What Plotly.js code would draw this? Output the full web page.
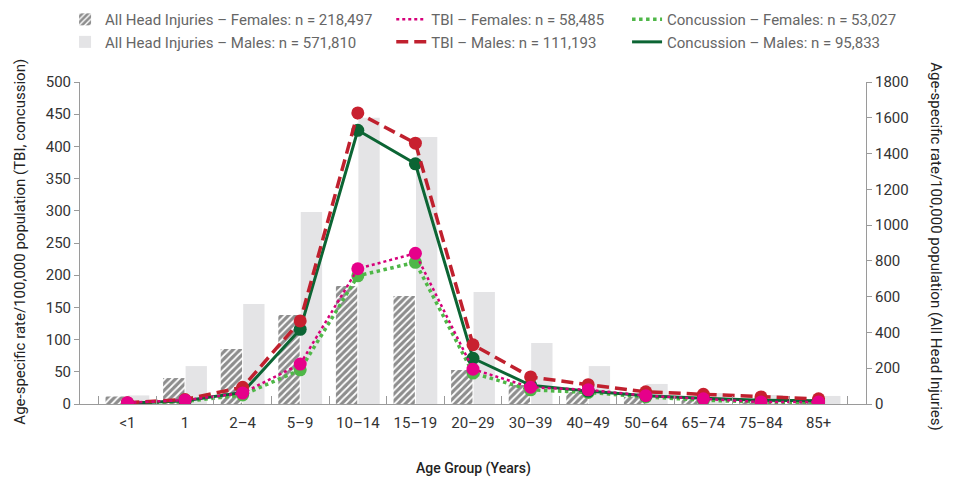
<!DOCTYPE html>
<html>
<head>
<meta charset="utf-8">
<script src="https://cdn.plot.ly/plotly-3.0.1.min.js"></script>
<style>
  html, body { margin: 0; padding: 0; background: #ffffff; }
  #chart { width: 956px; height: 486px; }
</style>
</head>
<body>
<div id="chart"></div>
<script>
// Age groups on the category axis
const ageGroups = ['<1', '1', '2–4', '5–9', '10–14', '15–19', '20–29', '30–39', '40–49', '50–64', '65–74', '75–84', '85+'];

// All head injuries, rate per 100,000 (right-hand scale)
const allHeadFemales = [42, 145, 307, 497, 660, 604, 190, 106, 67, 40, 34, 28, 26];
const allHeadMales   = [48, 212, 559, 1073, 1600, 1492, 626, 341, 212, 112, 61, 50, 45];

// TBI and concussion, rate per 100,000 (left-hand scale)
const tbiFemales        = [2, 6, 17, 62, 210, 234, 54, 26, 22, 13, 8, 3, 3];
const tbiMales          = [2, 7, 26, 129, 452, 405, 92, 42, 30, 19, 15, 11, 8];
const concussionFemales = [1, 4, 14, 53, 199, 220, 48, 22, 18, 11, 6, 3, 2];
const concussionMales   = [1, 5, 18, 116, 425, 373, 71, 29, 20, 13, 9, 6, 5];

// Legend labels
const labels = {
  ahiF: 'All Head Injuries – Females: n = 218,497',
  ahiM: 'All Head Injuries – Males: n = 571,810',
  tbiF: 'TBI – Females: n = 58,485',
  tbiM: 'TBI – Males: n = 111,193',
  conF: 'Concussion – Females: n = 53,027',
  conM: 'Concussion – Males: n = 95,833'
};

const FONT = 'Roboto, "Noto Sans", "DejaVu Sans", sans-serif';
const AXIS_GREY = '#9a9a9a';

// Each rate series is drawn as a line (which carries the legend entry)
// plus a marker layer without a legend entry, so the legend shows plain lines.
function rateSeries(name, values, legendId, rank, line, markerColor) {
  return [
    {
      type: 'scatter', mode: 'lines', name: name, x: ageGroups, y: values,
      xaxis: 'x', yaxis: 'y2', legend: legendId, legendrank: rank, legendgroup: name,
      line: line, hoverinfo: 'skip'
    },
    {
      type: 'scatter', mode: 'markers', name: name, x: ageGroups, y: values,
      xaxis: 'x', yaxis: 'y2', showlegend: false, legendgroup: name,
      marker: { color: markerColor, size: 13 }, hoverinfo: 'skip'
    }
  ];
}

const traces = [
  {
    type: 'bar', name: labels.ahiF, x: ageGroups, y: allHeadFemales,
    xaxis: 'x', yaxis: 'y', legend: 'legend', legendrank: 1, legendgroup: 'ahiF',
    marker: {
      color: '#8d8d8d',
      line: { width: 0 },
      pattern: { shape: '/', fgcolor: '#ffffff', bgcolor: '#8d8d8d', size: 5, solidity: 0.35 }
    },
    hoverinfo: 'skip'
  },
  {
    type: 'bar', name: labels.ahiM, x: ageGroups, y: allHeadMales,
    xaxis: 'x', yaxis: 'y', legend: 'legend', legendrank: 2, legendgroup: 'ahiM',
    marker: { color: '#e4e4e6', line: { width: 0 } },
    hoverinfo: 'skip'
  }
]
  .concat(rateSeries(labels.conF, concussionFemales, 'legend3', 1,
    { color: '#4fb748', width: 3.5, dash: 'dot' }, '#4fb748'))
  .concat(rateSeries(labels.conM, concussionMales, 'legend3', 2,
    { color: '#0c6534', width: 3 }, '#0c6534'))
  .concat(rateSeries(labels.tbiM, tbiMales, 'legend2', 2,
    { color: '#c0202e', width: 3.5, dash: '12px,6px' }, '#c8202f'))
  .concat(rateSeries(labels.tbiF, tbiFemales, 'legend2', 1,
    { color: '#d6007a', width: 2.5, dash: 'dot' }, '#e6008a'));

const legendBase = {
  orientation: 'v',
  yref: 'paper', y: 1.245, yanchor: 'top',
  xanchor: 'left',
  bgcolor: 'rgba(0,0,0,0)',
  font: { family: FONT, size: 15, color: '#666666' },
  tracegroupgap: 5,
  traceorder: 'normal'
};

const layout = {
  width: 956,
  height: 486,
  margin: { l: 80, r: 90, t: 82, b: 82, autoexpand: false },
  paper_bgcolor: '#ffffff',
  plot_bgcolor: '#ffffff',
  font: { family: FONT, size: 15, color: '#333333' },
  barmode: 'group',
  bargap: 0.22,
  bargroupgap: 0.05,
  showlegend: true,
  legend:  Object.assign({}, legendBase, { x: -0.019 }),
  legend2: Object.assign({}, legendBase, { x: 0.396 }),
  legend3: Object.assign({}, legendBase, { x: 0.696 }),
  xaxis: {
    type: 'category',
    showline: true, linecolor: AXIS_GREY, linewidth: 1,
    ticks: 'inside', tickson: 'boundaries', ticklen: 8, tickcolor: AXIS_GREY,
    ticklabelstandoff: 5,
    showgrid: false, zeroline: false,
    tickfont: { family: FONT, size: 15, color: '#333333' }
  },
  yaxis: {
    side: 'right',
    range: [0, 1800], dtick: 200,
    showline: true, linecolor: AXIS_GREY, linewidth: 1,
    ticks: 'outside', ticklen: 5, tickcolor: AXIS_GREY,
    showgrid: false, zeroline: false,
    tickfont: { family: FONT, size: 15, color: '#333333' }
  },
  yaxis2: {
    side: 'left', overlaying: 'y',
    range: [0, 500], dtick: 50,
    showline: true, linecolor: AXIS_GREY, linewidth: 1,
    ticks: 'outside', ticklen: 5, tickcolor: AXIS_GREY,
    showgrid: false, zeroline: false,
    tickfont: { family: FONT, size: 15, color: '#333333' }
  },
  annotations: [
    {
      text: 'Age-specific rate/100,000 population (TBI, concussion)',
      xref: 'paper', yref: 'paper', x: -0.076, y: 0.505,
      xanchor: 'center', yanchor: 'middle', textangle: -90, showarrow: false,
      font: { family: FONT, size: 15, color: '#222222' }
    },
    {
      text: 'Age-specific rate/100,000 population (All Head Injuries)',
      xref: 'paper', yref: 'paper', x: 1.089, y: 0.49,
      xanchor: 'center', yanchor: 'middle', textangle: 90, showarrow: false,
      font: { family: FONT, size: 15, color: '#222222' }
    },
    {
      text: 'Age Group (Years)',
      xref: 'paper', yref: 'paper', x: 0.5, y: -0.199,
      xanchor: 'center', yanchor: 'middle', showarrow: false,
      font: { family: FONT, size: 14, color: '#222222', weight: 500 }
    }
  ]
};

Plotly.newPlot('chart', traces, layout, { displayModeBar: false, staticPlot: true });
</script>
</body>
</html>
